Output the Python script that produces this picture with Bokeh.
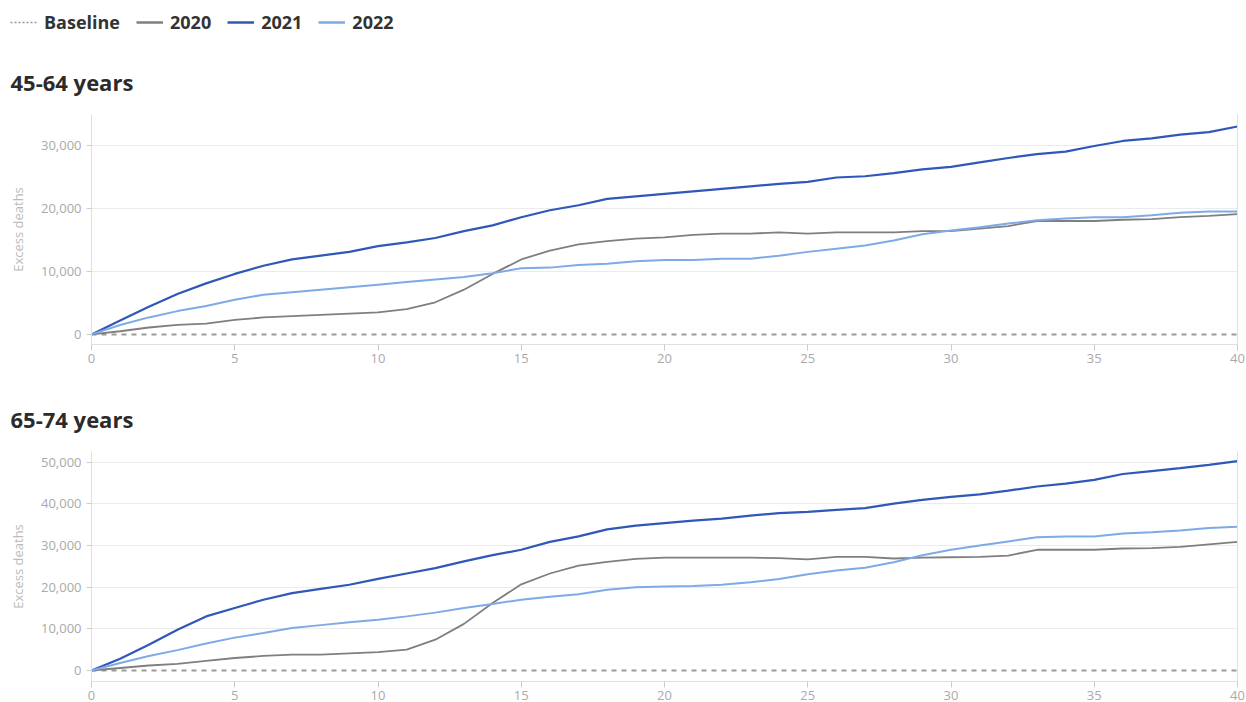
from bokeh.plotting import figure
from bokeh.models import Legend, LegendItem, Title, LinearAxis, NumeralTickFormatter, FixedTicker, Range1d
from bokeh.layouts import column
from bokeh.embed import file_html
from bokeh.resources import INLINE

weeks = list(range(41))

# 45-64 years
a1_2020 = [0, 500, 1100, 1500, 1700, 2300, 2700, 2900, 3100, 3300, 3500, 4000, 5100, 7100, 9600, 11900,
           13300, 14300, 14800, 15200, 15400, 15800, 16000, 16000, 16200, 16000, 16200, 16200, 16200, 16400,
           16400, 16800, 17200, 18000, 18000, 18000, 18200, 18300, 18600, 18800, 19100]
a1_2021 = [0, 2200, 4400, 6400, 8100, 9600, 10900, 11900, 12500, 13100, 14000, 14600, 15300, 16400, 17300,
           18600, 19700, 20500, 21500, 21900, 22300, 22700, 23100, 23500, 23900, 24200, 24900, 25100, 25600,
           26200, 26600, 27300, 28000, 28600, 29000, 29900, 30700, 31100, 31700, 32100, 33000]
a1_2022 = [0, 1500, 2700, 3700, 4500, 5500, 6300, 6700, 7100, 7500, 7900, 8300, 8700, 9100, 9700, 10500,
           10600, 11000, 11200, 11600, 11800, 11800, 12000, 12000, 12500, 13100, 13600, 14100, 14900, 15900,
           16500, 17000, 17600, 18100, 18400, 18600, 18600, 18900, 19300, 19500, 19500]

# 65-74 years
a2_2020 = [0, 600, 1200, 1600, 2300, 3000, 3500, 3800, 3800, 4100, 4400, 5000, 7400, 11200, 16200, 20700,
           23300, 25200, 26100, 26800, 27100, 27100, 27100, 27100, 27000, 26700, 27300, 27300, 26900, 27100,
           27200, 27300, 27600, 29000, 29000, 29000, 29300, 29400, 29700, 30300, 30900]
a2_2021 = [0, 2800, 6200, 9800, 13000, 15000, 17000, 18600, 19600, 20600, 22000, 23300, 24600, 26200, 27700,
           29000, 30900, 32200, 33900, 34800, 35400, 36000, 36500, 37200, 37800, 38100, 38600, 39000, 40100,
           41000, 41700, 42300, 43200, 44200, 44900, 45800, 47200, 47900, 48600, 49400, 50300]
a2_2022 = [0, 1800, 3500, 4900, 6500, 7900, 9000, 10200, 10900, 11600, 12200, 13000, 13900, 15000, 16000,
           17000, 17700, 18300, 19400, 20000, 20200, 20300, 20600, 21200, 22000, 23100, 24000, 24700, 26000,
           27700, 29000, 30000, 31000, 32000, 32200, 32200, 32900, 33200, 33600, 34200, 34500]

baseline_x = [0, 40]
baseline_y = [0, 0]

titles = ["45-64 years", "65-74 years"]
legend_labels = ["Baseline", "2020", "2021", "2022"]
x_ticks = [0, 5, 10, 15, 20, 25, 30, 35, 40]
y_ticks1 = [0, 10000, 20000, 30000]
y_ticks2 = [0, 10000, 20000, 30000, 40000, 50000]

C2020 = "#7f7f7f"
C2021 = "#2f58b8"
C2022 = "#7eaae6"
CBASE = "#9a9a9a"
FONT = "Open Sans"
LEFT = 91


def make_fig(title, s2020, s2021, s2022, yticks, yr, bottom):
    p = figure(frame_width=1146, frame_height=230, output_backend="svg", toolbar_location=None,
               x_range=Range1d(0, 40), y_range=Range1d(*yr), min_border_left=LEFT, min_border_right=8,
               min_border_top=0, min_border_bottom=bottom)
    p.title = None
    p.outline_line_color = None
    p.line(baseline_x, baseline_y, line_color=CBASE, line_width=2, line_dash="5 5")
    p.line(weeks, s2020, line_color=C2020, line_width=1.8)
    p.line(weeks, s2021, line_color=C2021, line_width=2.2)
    p.line(weeks, s2022, line_color=C2022, line_width=2)

    p.xgrid.visible = False
    p.ygrid.ticker = FixedTicker(ticks=[t for t in yticks if t != 0])
    p.ygrid.grid_line_color = "#ebebeb"
    p.ygrid.grid_line_width = 1

    p.xaxis.ticker = FixedTicker(ticks=x_ticks)
    p.xaxis.axis_line_color = "#e0e0e0"
    p.xaxis.major_tick_line_color = "#cccccc"
    p.xaxis.major_tick_in = 0
    p.xaxis.major_tick_out = 6
    p.xaxis.minor_tick_line_color = None
    p.xaxis.major_label_text_color = "#aaaaaa"
    p.xaxis.major_label_text_font = FONT
    p.xaxis.major_label_text_font_size = "13px"
    p.xaxis.major_label_standoff = 3

    p.yaxis.ticker = FixedTicker(ticks=yticks)
    p.yaxis.formatter = NumeralTickFormatter(format="0,0")
    p.yaxis.axis_line_color = "#e0e0e0"
    p.yaxis.major_tick_line_color = "#cccccc"
    p.yaxis.major_tick_in = 0
    p.yaxis.major_tick_out = 5
    p.yaxis.minor_tick_line_color = None
    p.yaxis.major_label_text_color = "#aaaaaa"
    p.yaxis.major_label_text_font = FONT
    p.yaxis.major_label_text_font_size = "13px"
    p.yaxis.major_label_standoff = 5
    p.yaxis.axis_label = "Excess deaths"
    p.yaxis.axis_label_text_color = "#bbbbbb"
    p.yaxis.axis_label_text_font = FONT
    p.yaxis.axis_label_text_font_size = "13px"
    p.yaxis.axis_label_text_font_style = "normal"
    p.yaxis.axis_label_standoff = 11

    right = LinearAxis(axis_line_color="#e0e0e0", major_tick_line_color=None, minor_tick_line_color=None,
                       major_label_text_font_size="0px", major_label_standoff=0)
    p.add_layout(right, "right")

    t = Title(text=title, text_font=FONT, text_font_size="22px", text_font_style="bold",
              text_color="#2b2b2b", offset=-(LEFT - 10), standoff=36)
    p.add_layout(t, "above")
    return p


# legend strip at the top
lg = figure(width=LEFT + 1146 + 9, height=46, output_backend="svg", toolbar_location=None,
            x_range=Range1d(0, 1), y_range=Range1d(0, 1), min_border=0,
            min_border_left=0, min_border_right=0, min_border_top=0, min_border_bottom=0,
            x_axis_location=None, y_axis_location=None)
lg.title = None
lg.grid.visible = False
lg.outline_line_color = None
off_x = [5, 6]
off_y = [5, 6]
rb = lg.line(off_x, off_y, line_color="#999999", line_width=1.5, line_dash="2 2")
r0 = lg.line(off_x, off_y, line_color=C2020, line_width=2.5)
r1 = lg.line(off_x, off_y, line_color=C2021, line_width=2.5)
r2 = lg.line(off_x, off_y, line_color=C2022, line_width=2.5)
legend = Legend(items=[LegendItem(label=legend_labels[0], renderers=[rb]),
                       LegendItem(label=legend_labels[1], renderers=[r0]),
                       LegendItem(label=legend_labels[2], renderers=[r1]),
                       LegendItem(label=legend_labels[3], renderers=[r2])],
                orientation="horizontal", location=(10, 12),
                label_text_font=FONT, label_text_font_size="18px", label_text_font_style="bold",
                label_text_color="#333333", glyph_width=27, glyph_height=18, spacing=16,
                label_standoff=7, border_line_color=None, background_fill_alpha=0,
                margin=0, padding=0)
lg.add_layout(legend, "center")

p1 = make_fig(titles[0], a1_2020, a1_2021, a1_2022, y_ticks1, (-1600, 34900), 39)
p2 = make_fig(titles[1], a2_2020, a2_2021, a2_2022, y_ticks2, (-2640, 52600), 0)

layout = column(lg, column(p1, p2, spacing=0), spacing=0)
open("out.html", "w").write(file_html(layout, INLINE))
